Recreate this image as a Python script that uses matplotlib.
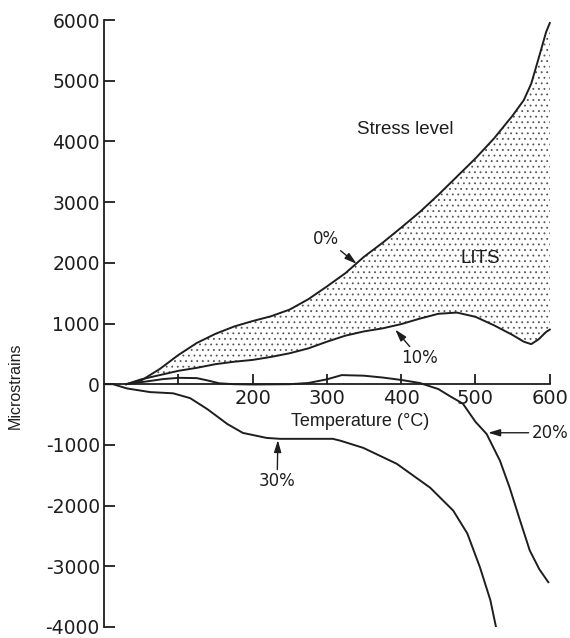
import matplotlib
matplotlib.use('Agg')
import matplotlib.pyplot as plt

# temperature grid shared by the 0% and 10% curves (deg C)
temp_top = [30, 50, 75, 100, 125, 150, 175, 200, 225, 250, 275, 300, 325, 350,
            375, 400, 425, 450, 475, 500, 525, 550, 565, 575, 585, 595, 600]
strain_0 = [0, 60, 250, 480, 680, 830, 950, 1040, 1120, 1230, 1400, 1610, 1830, 2100,
            2330, 2580, 2836, 3120, 3420, 3720, 4050, 4426, 4680, 4950, 5370, 5800, 5950]
strain_10 = [0, 80, 150, 220, 270, 330, 370, 400, 450, 510, 590, 700, 800, 870,
             920, 990, 1080, 1160, 1180, 1110, 970, 810, 700, 660, 740, 860, 900]

temp_20 = [30, 60, 80, 101, 125, 140, 155, 175, 200, 250, 275, 300, 320, 350, 375,
           400, 425, 450, 466, 483, 500, 515, 533, 546, 560, 573, 586, 598]
strain_20 = [0, 50, 85, 105, 100, 60, 15, 0, -5, 0, 20, 80, 150, 140, 110,
             70, 20, -80, -200, -320, -620, -820, -1262, -1705, -2246, -2738, -3050, -3262]

temp_30 = [0, 12, 31, 62, 93, 116, 139, 166, 187, 219, 237, 308, 318, 349, 394,
           439, 470, 489, 506, 520, 529]
strain_30 = [0, 0, -70, -130, -150, -230, -410, -656, -803, -885, -900, -900, -930, -1049, -1311,
             -1705, -2082, -2459, -3016, -3557, -4082]

yticks = [-4000, -3000, -2000, -1000, 0, 1000, 2000, 3000, 4000, 5000, 6000]
ytick_labels = ['-4000', '-3000', '-2000', '-1000', '0', '1000', '2000', '3000', '4000', '5000', '6000']
xticks = [100, 200, 300, 400, 500, 600]
xtick_labels = ['', '200', '300', '400', '500', '600']

ink = '#1e1e1e'
plt.rcParams['hatch.linewidth'] = 0.6

fig = plt.figure(figsize=(5.7, 6.38), dpi=100)
ax = fig.add_axes([104 / 570, 11 / 638, 449.5 / 570, 607 / 638])
ax.set_xlim(0, 605)
ax.set_ylim(-4000, 6000)

# stippled LITS band
ax.fill_between(temp_top, strain_10, strain_0, facecolor='none', edgecolor='#555555',
                hatch='...', linewidth=0)
for t, s in [(temp_top, strain_0), (temp_top, strain_10), (temp_20, strain_20), (temp_30, strain_30)]:
    ax.plot(t, s, color=ink, lw=1.4, solid_joinstyle='round')

for side in ['top', 'right']:
    ax.spines[side].set_visible(False)
ax.spines['left'].set_position(('data', 0))
ax.spines['bottom'].set_position(('data', 0))
ax.spines['bottom'].set_bounds(0, 600)
ax.spines['left'].set_linewidth(1.3)
ax.spines['bottom'].set_linewidth(1.3)
ax.spines['left'].set_color(ink)
ax.spines['bottom'].set_color(ink)

ax.set_yticks(yticks)
ax.set_yticklabels(ytick_labels)
ax.set_xticks(xticks)
ax.set_xticklabels(xtick_labels)
ax.tick_params(axis='y', direction='in', length=8, width=1.3, pad=3, labelsize=13.5, colors=ink)
ax.tick_params(axis='x', direction='in', length=7, width=1.3, pad=3.5, labelsize=14, colors=ink)

ax.text(345, -620, 'Temperature (°C)', ha='center', va='center', fontsize=13,
        family='Liberation Sans', color=ink)
fig.text(15 / 570, 1 - 386 / 638, 'Microstrains', rotation=90, ha='center', va='center',
         fontsize=11.5, family='Liberation Sans', color=ink)

ax.text(405, 4200, 'Stress level', ha='center', va='center', fontsize=13.5,
        family='Liberation Sans', color=ink)
ax.text(506, 2066, 'LITS', ha='center', va='center', fontsize=13.5,
        family='Liberation Sans', color=ink)

arrow = dict(arrowstyle='-|>,head_length=0.6,head_width=0.18', color=ink, lw=1.0,
             shrinkA=0, shrinkB=0)
ax.annotate('0%', xy=(340, 1984), xytext=(299, 2393), ha='center', va='center',
            fontsize=12, color=ink, arrowprops=arrow)
ax.annotate('10%', xy=(392, 900), xytext=(425, 426), ha='center', va='center',
            fontsize=12, color=ink, arrowprops=arrow)
ax.annotate('20%', xy=(517, -800), xytext=(600, -800), ha='center', va='center',
            fontsize=12, color=ink, arrowprops=arrow, annotation_clip=False)
ax.annotate('30%', xy=(234, -920), xytext=(233, -1600), ha='center', va='center',
            fontsize=12, color=ink, arrowprops=arrow)

fig.savefig('out.png', dpi=100)
